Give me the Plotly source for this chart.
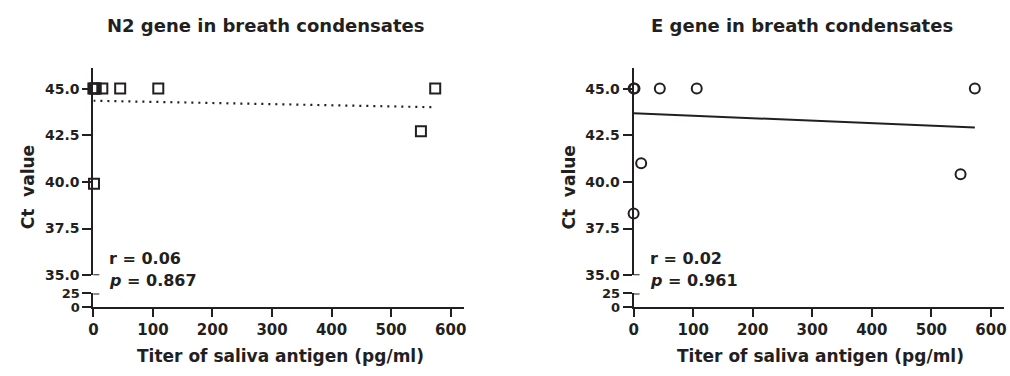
import plotly.graph_objects as go

# ---------------- data ----------------
n2_titer = [0, 2, 4, 15, 45, 109, 574, 550, 1]
n2_ct = [45, 45, 45, 45, 45, 45, 45, 42.72, 39.9]
n2_fit_x = [0, 574]
n2_fit_y = [44.35, 44.0]

e_titer = [0, 1.5, 44, 106, 573, 12.7, 0, 549]
e_ct = [45, 45, 45, 45, 45, 41.0, 38.3, 40.41]
e_fit_x = [0, 573]
e_fit_y = [43.68, 42.92]

titles = ["N2 gene in breath condensates", "E gene in breath condensates"]
stats_r = ["r = 0.06", "r = 0.02"]
stats_p = ["0.867", "0.961"]
upper_ticks = [35, 37.5, 40, 42.5, 45]
lower_ticks = [0, 25]
x_ticks = [0, 100, 200, 300, 400, 500, 600]

# ---------------- style ----------------
INK = "#231f20"
W, H = 1010, 376
FONT = "DejaVu Sans"


def px_x(p):
    return p / W


def px_y(p):
    return 1 - p / H


left_dom = [px_x(89), px_x(462)]
right_dom = [px_x(633), px_x(1006)]
upper_dom = [px_y(279.3), px_y(64)]
lower_dom = [px_y(312.7), px_y(298.3)]

fig = go.Figure()

# N2 panel
fig.add_trace(go.Scatter(x=n2_fit_x, y=n2_fit_y, mode="lines",
                         line=dict(color=INK, width=2.2, dash="2px,5px"),
                         xaxis="x", yaxis="y", showlegend=False, cliponaxis=False))
fig.add_trace(go.Scatter(x=n2_titer, y=n2_ct, mode="markers",
                         marker=dict(symbol="square-open", size=10, color=INK,
                                     line=dict(width=2, color=INK)),
                         xaxis="x", yaxis="y", showlegend=False, cliponaxis=False))
# E panel
fig.add_trace(go.Scatter(x=e_fit_x, y=e_fit_y, mode="lines",
                         line=dict(color=INK, width=2),
                         xaxis="x2", yaxis="y3", showlegend=False, cliponaxis=False))
fig.add_trace(go.Scatter(x=e_titer, y=e_ct, mode="markers",
                         marker=dict(symbol="circle-open", size=10, color=INK,
                                     line=dict(width=2, color=INK)),
                         xaxis="x2", yaxis="y3", showlegend=False, cliponaxis=False))

axis_common = dict(showline=True, linecolor=INK, linewidth=2, ticks="outside",
                   tickwidth=2, tickcolor=INK, showgrid=False, zeroline=False)

xa = dict(axis_common, range=[0, 622], tickvals=x_ticks, ticklen=8,
          tickfont=dict(size=15, color=INK, family=FONT, weight="bold"))
yu = dict(axis_common, range=[35, 46.08], tickvals=upper_ticks, tickformat=".1f",
          domain=upper_dom, ticklen=9,
          tickfont=dict(size=14, color=INK, family=FONT, weight="bold"))
yl = dict(axis_common, range=[0, 25], tickvals=lower_ticks, domain=lower_dom, ticklen=9,
          tickfont=dict(size=13, color=INK, family=FONT, weight="bold"))

fig.update_layout(
    width=W, height=H, margin=dict(l=0, r=0, t=0, b=0),
    paper_bgcolor="white", plot_bgcolor="rgba(0,0,0,0)",
    font=dict(family=FONT, color=INK, weight="bold"),
    xaxis=dict(xa, domain=left_dom, anchor="y2"),
    yaxis=dict(yu, anchor="x"),
    yaxis2=dict(yl, anchor="x"),
    xaxis2=dict(xa, domain=right_dom, anchor="y4"),
    yaxis3=dict(yu, anchor="x2"),
    yaxis4=dict(yl, anchor="x2"),
)

# break caps (right half of the tick at the segment ends)
cap = 6 / 373
for xd, yu_ref, yl_ref in [("x domain", "y", "y2"), ("x2 domain", "y3", "y4")]:
    fig.add_shape(type="line", xref=xd, yref=yu_ref, x0=0, x1=cap, y0=35, y1=35,
                  line=dict(color=INK, width=2))
    fig.add_shape(type="line", xref=xd, yref=yl_ref, x0=0, x1=cap, y0=25, y1=25,
                  line=dict(color=INK, width=2))

ann = []
panels = [(89, 101), (633, 648)]
for i, (axis_px, title_px) in enumerate(panels):
    ann.append(dict(text=titles[i], x=px_x(title_px), y=px_y(19), xref="paper", yref="paper",
                    xanchor="left", yanchor="middle", showarrow=False,
                    font=dict(size=18, family=FONT, color=INK, weight="bold")))
    ann.append(dict(text="Ct  value", x=px_x(axis_px - 66), y=px_y(188), xref="paper", yref="paper",
                    xanchor="center", yanchor="middle", textangle=-90, showarrow=False,
                    font=dict(size=17, family=FONT, color=INK, weight="bold")))
    ann.append(dict(text="Titer of saliva antigen (pg/ml)", x=px_x(axis_px + 188), y=px_y(364),
                    xref="paper", yref="paper", xanchor="center", yanchor="middle",
                    showarrow=False, font=dict(size=17, family=FONT, color=INK, weight="bold")))
    ann.append(dict(text=stats_r[i], x=px_x(axis_px + 14), y=px_y(262), xref="paper", yref="paper",
                    xanchor="left", yanchor="middle", showarrow=False,
                    font=dict(size=16, family=FONT, color=INK, weight="bold")))
    ann.append(dict(text="<i>p</i> = " + stats_p[i], x=px_x(axis_px + 14), y=px_y(285),
                    xref="paper", yref="paper", xanchor="left", yanchor="middle", showarrow=False,
                    font=dict(size=16, family=FONT, color=INK, weight="bold")))
fig.update_layout(annotations=ann)

fig.write_html("out.html", config={"displayModeBar": False},
               post_script="document.body.style.margin='0px';document.body.style.overflow='hidden';")
